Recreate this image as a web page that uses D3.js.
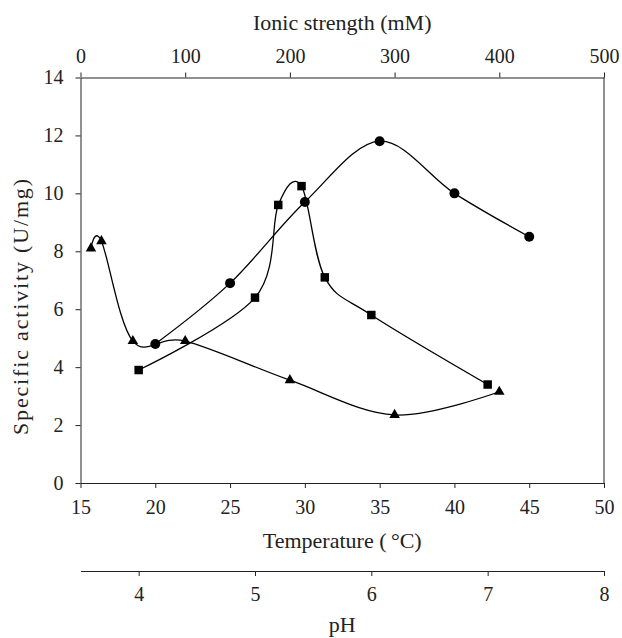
<!DOCTYPE html>
<html>
<head>
<meta charset="utf-8">
<script src="https://cdn.jsdelivr.net/npm/d3@7"></script>
<style>
  body { margin: 0; background: #fff; }
  .axis path, .axis line { stroke: #222; stroke-width: 1; }
  .axis text { font-size: 20px; fill: #222; }
  .title { font-size: 22px; fill: #222; }
</style>
</head>
<body>
<div id="chart"></div>
<script>
// temperature series (circles)
const tempC = [20, 25, 30, 35, 40, 45];
const tempAct = [4.8, 6.9, 9.7, 11.8, 10.0, 8.5];
// pH series (squares)
const phVals = [4.0, 5.0, 5.2, 5.4, 5.6, 6.0, 7.0];
const phAct = [3.9, 6.4, 9.6, 10.25, 7.1, 5.8, 3.4];
// ionic strength series (triangles)
const ionicMM = [10, 20, 50, 100, 200, 300, 400];
const ionicAct = [8.1, 8.35, 4.9, 4.9, 3.55, 2.35, 3.15];

const yTicks = d3.range(0, 15, 2);
const tempTicks = d3.range(15, 51, 5);
const ionicTicks = d3.range(0, 501, 100);
const phTicks = [4, 5, 6, 7, 8];

const serif = "'Liberation Serif', 'DejaVu Serif', serif";
const W = 622, H = 638;
const margin = {top: 77.5, right: 18, bottom: 155, left: 80.5};
const width = W - margin.left - margin.right,
  height = H - margin.top - margin.bottom;

const svg = d3.select("#chart")
  .append("svg")
    .attr("width", W)
    .attr("height", H)
    .attr("font-family", serif)
  .append("g")
    .attr("transform", "translate(" + margin.left + "," + margin.top + ")");

const y = d3.scaleLinear().domain([0, 14]).range([height, 0]);
const xT = d3.scaleLinear().domain([15, 50]).range([0, width]);
const xI = d3.scaleLinear().domain([0, 500]).range([0, width]);
const xP = d3.scaleLinear().domain([3.5, 8]).range([0, width]);

// y axis
svg.append("g")
  .attr("class", "axis")
  .call(d3.axisLeft(y).tickValues(yTicks).tickSize(5).tickSizeOuter(0).tickPadding(12))
  .attr("font-family", serif);
// right frame
svg.append("line")
  .attr("x1", width).attr("x2", width)
  .attr("y1", 0).attr("y2", height)
  .attr("stroke", "#222");
// bottom: temperature
svg.append("g")
  .attr("class", "axis")
  .attr("transform", "translate(0," + height + ")")
  .call(d3.axisBottom(xT).tickValues(tempTicks).tickSize(5).tickSizeOuter(0).tickPadding(12))
  .attr("font-family", serif);
// top: ionic strength
svg.append("g")
  .attr("class", "axis")
  .call(d3.axisTop(xI).tickValues(ionicTicks).tickSize(5).tickSizeOuter(0).tickPadding(10))
  .attr("font-family", serif);
// extra pH axis
const phY = 571 - margin.top;
svg.append("g")
  .attr("class", "axis")
  .attr("transform", "translate(0," + phY + ")")
  .call(d3.axisBottom(xP).tickValues(phTicks).tickFormat(d3.format("d")).tickSize(5).tickSizeOuter(0).tickPadding(11))
  .attr("font-family", serif);

// titles
svg.append("text").attr("class", "title")
  .attr("text-anchor", "middle")
  .attr("x", width / 2).attr("y", 30 - margin.top)
  .text("Ionic strength (mM)");
svg.append("text").attr("class", "title")
  .attr("text-anchor", "middle")
  .attr("x", width / 2).attr("y", 548 - margin.top)
  .text("Temperature (\u2009\u00B0C)");
svg.append("text").attr("class", "title")
  .attr("text-anchor", "middle")
  .attr("x", width / 2).attr("y", 632 - margin.top)
  .text("pH");
svg.append("text").attr("class", "title")
  .attr("text-anchor", "middle")
  .attr("transform", "rotate(-90)")
  .attr("x", -(307 - margin.top))
  .attr("y", 28 - margin.left)
  .attr("textLength", 256)
  .attr("lengthAdjust", "spacing")
  .text("Specific activity (U/mg)");

// smoothed lines
const series = [
  {x: xT, xs: tempC, ys: tempAct, sym: d3.symbolCircle, size: 78},
  {x: xP, xs: phVals, ys: phAct, sym: d3.symbolSquare, size: 72},
  {x: xI, xs: ionicMM, ys: ionicAct, sym: d3.symbolTriangle, size: 48}
];

series.forEach(function(s){
  const pts = s.xs.map((v, i) => [s.x(v), y(s.ys[i])]);
  svg.append("path")
    .attr("d", d3.line().curve(d3.curveCardinal.tension(0))(pts))
    .attr("fill", "none")
    .attr("stroke", "#000")
    .attr("stroke-width", 1.3);
  svg.selectAll(null)
    .data(pts)
    .enter()
    .append("path")
    .attr("transform", d => "translate(" + d[0] + "," + d[1] + ")")
    .attr("d", d3.symbol().type(s.sym).size(s.size))
    .attr("fill", "#000");
});
</script>
</body>
</html>
